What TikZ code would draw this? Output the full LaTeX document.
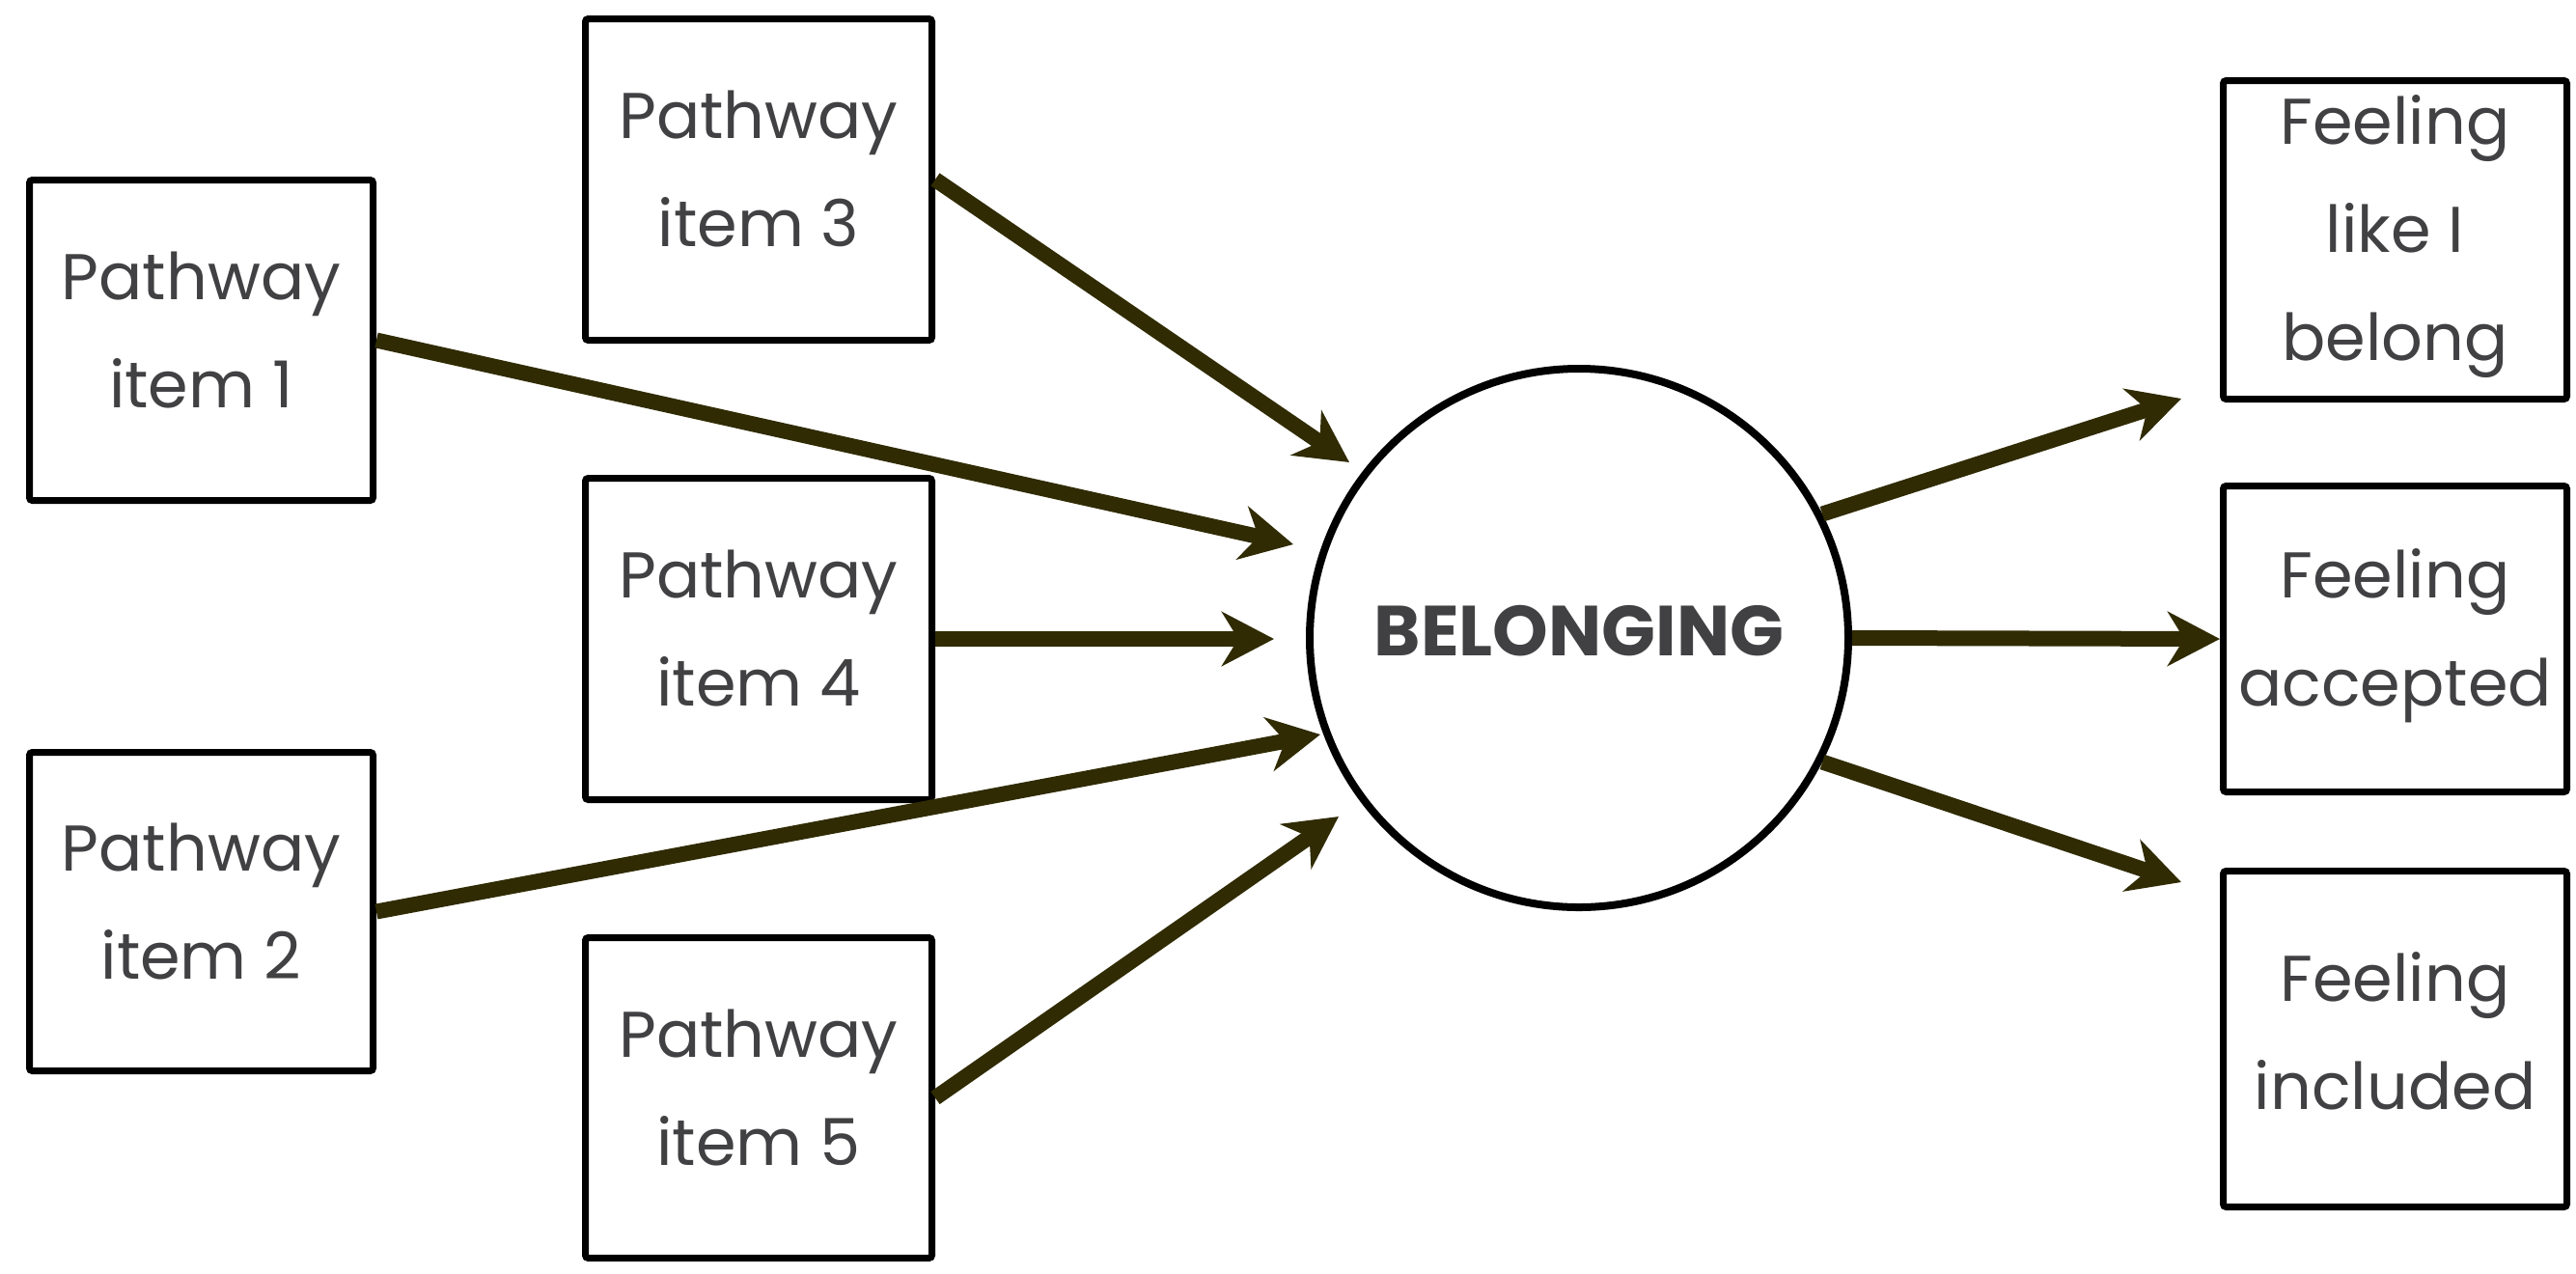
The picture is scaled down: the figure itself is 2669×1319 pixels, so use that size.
\documentclass[tikz,border=0pt]{standalone}
\usepackage{fontspec}
\setmainfont{Poppins}
\usetikzlibrary{arrows.meta,calc}
\definecolor{ink}{HTML}{414042}
\definecolor{olive}{HTML}{302B02}

\begin{document}
\begin{tikzpicture}[x=0.5pt,y=-0.5pt,
  itembox/.style={draw=black, fill=white, line width=3.5pt, rounded corners=1.5pt,
    inner sep=0pt},
  itemtext/.style={inner sep=0pt, align=center, text=ink,
    font=\fontsize{33.5}{56}\selectfont},
  hub/.style={circle, draw=black, fill=white, line width=4pt, inner sep=0pt,
    minimum size=279pt},
  hubtext/.style={inner sep=0pt, text=ink, font=\fontsize{36.7}{40}\selectfont\bfseries},
  link/.style={draw=olive, line width=8pt,
    -{Stealth[length=27pt,width=28pt,inset=8.5pt]}}
]
\useasboundingbox (0,0) rectangle (2669,1319);

% pathway items
\node[itembox, minimum width=178pt, minimum height=166pt] (p1) at (208.5,352.5) {};
\node[itembox, minimum width=178pt, minimum height=165pt] (p2) at (208.5,944.5) {};
\node[itembox, minimum width=179.5pt, minimum height=166.5pt] (p3) at (786,186) {};
\node[itembox, minimum width=179.5pt, minimum height=166.5pt] (p4) at (786,662) {};
\node[itembox, minimum width=179.5pt, minimum height=166pt] (p5) at (786,1137.5) {};
\node[itemtext] (p1-label) at ([yshift=5.5pt]p1.center) {Pathway\\item 1};
\node[itemtext] (p2-label) at ([yshift=5.5pt]p2.center) {Pathway\\item 2};
\node[itemtext] (p3-label) at ([yshift=5.5pt]p3.center) {Pathway\\item 3};
\node[itemtext] (p4-label) at ([yshift=5.5pt]p4.center) {Pathway\\item 4};
\node[itemtext] (p5-label) at ([yshift=5.5pt]p5.center) {Pathway\\item 5};

% central concept
\node[hub] (b) at (1636,661) {};
\node[hubtext] (b-label) at ([yshift=3.5pt]b.center) {BELONGING};

% outcomes
\node[itembox, minimum width=178pt, minimum height=165pt] (r1) at (2481.5,248.5) {};
\node[itembox, minimum width=178pt, minimum height=158.5pt] (r2) at (2481.5,662) {};
\node[itembox, minimum width=178pt, minimum height=174pt] (r3) at (2481.5,1076.5) {};
\node[itemtext] (r1-label) at ([yshift=1.7pt]r1.center) {Feeling\\like I\\belong};
\node[itemtext] (r2-label) at ([yshift=1.7pt]r2.center) {Feeling\\accepted};
\node[itemtext] (r3-label) at ([yshift=4.3pt]r3.center) {Feeling\\included};

% arrow tips
\coordinate (t1) at (1340,564);
\coordinate (t2) at (1368,761);
\coordinate (t3) at (1398,479);
\coordinate (t4) at (1320,662);
\coordinate (t5) at (1387,846);
\coordinate (o1) at (2260,413);
\coordinate (o3) at (2260,914);

% inputs
\draw[link] (p1.east) -- (t1);
\draw[link] (p2.east) -- (t2);
\draw[link] (p3.east) -- (t3);
\draw[link] (p4.east) -- (t4);
\draw[link] (p5.east) -- (t5);

% outputs
\draw[link] (b.27) -- (o1);
\draw[link] (b.east) -- (r2.west);
\draw[link] (b.-27) -- (o3);
\end{tikzpicture}
\end{document}
